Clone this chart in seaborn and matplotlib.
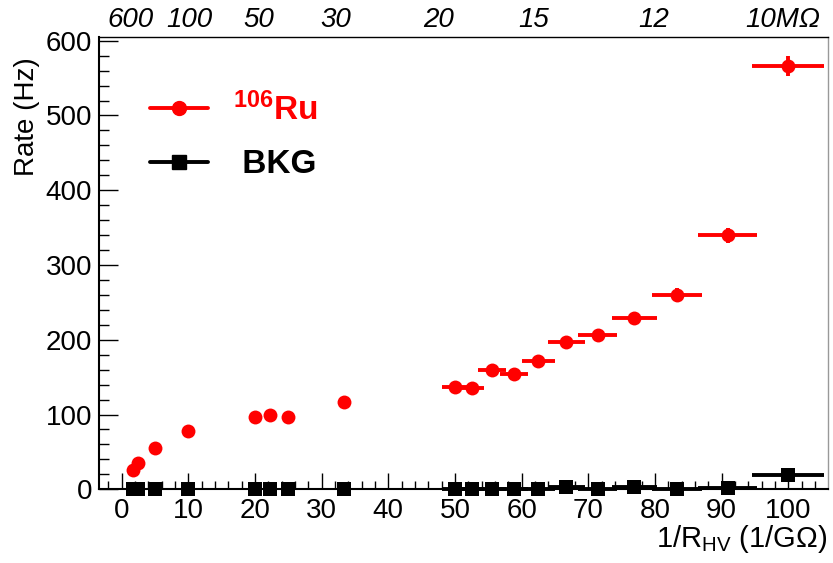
import matplotlib
matplotlib.use("Agg")
import matplotlib.pyplot as plt
import matplotlib.transforms as mtransforms
from matplotlib.lines import Line2D
from matplotlib.ticker import MultipleLocator
import pandas as pd
import seaborn as sns

# 1/R_HV (1/GOhm) and its horizontal uncertainty
inv_r = [1.67, 2.5, 5.0, 10.0, 20.0, 22.2, 25.0, 33.3, 50.0, 52.6, 55.6, 58.8,
         62.5, 66.7, 71.4, 76.9, 83.3, 90.9, 100.0]
inv_r_err = [0.05, 0.05, 0.1, 0.2, 0.4, 0.5, 0.6, 0.8, 2.0, 1.7, 2.1, 2.1,
             2.5, 2.75, 2.9, 3.4, 3.8, 4.4, 5.4]

# Ru-106 source rate (Hz)
ru_rate = [26, 35, 55, 78, 97, 100, 97, 117, 137, 136, 159, 154,
           171, 197, 206, 229, 260, 340, 566]
ru_err = [8, 8, 8, 8, 8, 8, 8, 8, 8, 8, 8, 8,
          8, 8, 8, 8, 9, 10, 13]

# background rate (Hz)
bkg_rate = [0, 0, 0, 0, 0, 0, 0, 0, 0, 0, 0, 0,
            0.5, 2.7, 0, 2.5, 0.5, 1.5, 19]
bkg_err = [0.5, 0.5, 0.5, 0.5, 0.5, 0.5, 0.5, 0.5, 0.5, 0.5, 0.5, 0.5,
           0.5, 1, 0.5, 1, 0.5, 1, 3]

# resistance labels along the top (MOhm)
top_labels = ["600", "100", "50", "30", "20", "15", "12", "10M\u03a9"]
top_label_pos = [1.25, 10.1, 20.6, 32.1, 47.5, 61.8, 79.8, 99.1]

sns.set_theme(style="ticks")
plt.rcParams["font.family"] = ["Liberation Sans", "DejaVu Sans"]
plt.rcParams["mathtext.fontset"] = "custom"
plt.rcParams["mathtext.rm"] = "Liberation Sans"
plt.rcParams["mathtext.it"] = "Liberation Sans:italic"
plt.rcParams["mathtext.bf"] = "Liberation Sans:bold"
plt.rcParams["axes.labelcolor"] = "black"
plt.rcParams["text.color"] = "black"

df_ru = pd.DataFrame({"x": inv_r, "y": ru_rate})
df_bkg = pd.DataFrame({"x": inv_r, "y": bkg_rate})

fig = plt.figure(figsize=(8.33, 5.63), dpi=100)
ax = fig.add_axes([0.1192, 0.1309, 0.8744, 0.8028])

ax.errorbar(inv_r, ru_rate, xerr=inv_r_err, yerr=ru_err, fmt="none",
            ecolor="#ff0000", elinewidth=2.8, capsize=0, clip_on=False, zorder=3)
sns.scatterplot(data=df_ru, x="x", y="y", ax=ax, marker="o", s=100,
                color="#ff0000", edgecolor="#ff0000", linewidth=0,
                clip_on=False, zorder=4, legend=False)

ax.errorbar(inv_r, bkg_rate, xerr=inv_r_err, yerr=bkg_err, fmt="none",
            ecolor="black", elinewidth=2.8, capsize=0, clip_on=False, zorder=5)
sns.scatterplot(data=df_bkg, x="x", y="y", ax=ax, marker="s", s=95,
                color="black", edgecolor="black", linewidth=0,
                clip_on=False, zorder=6, legend=False)

ax.set_xlim(-3.36, 105.9)
ax.set_ylim(0, 604.5)

ax.xaxis.set_major_locator(MultipleLocator(10))
ax.xaxis.set_minor_locator(MultipleLocator(2))
ax.yaxis.set_major_locator(MultipleLocator(100))
ax.yaxis.set_minor_locator(MultipleLocator(20))

ax.tick_params(axis="both", which="both", direction="in", top=False, right=False,
               colors="black", labelsize=20, width=1.0)
ax.tick_params(axis="y", which="major", length=13.7, pad=5)
ax.tick_params(axis="y", which="minor", length=7.2)
ax.tick_params(axis="x", which="major", length=11.5, pad=6)
ax.tick_params(axis="x", which="minor", length=5.8)

for side in ("left", "bottom"):
    ax.spines[side].set_color("black")
    ax.spines[side].set_linewidth(1.5)
ax.spines["top"].set_color("black")
ax.spines["top"].set_linewidth(1.0)
ax.spines["right"].set_color("#999999")
ax.spines["right"].set_linewidth(1.0)

ax.set_xlabel("1/R$_{\\mathrm{HV}}$ (1/G\u03a9)", fontsize=21, loc="right")
ax.xaxis.set_label_coords(1.0, -0.074)
ax.set_ylabel("Rate (Hz)", fontsize=20, loc="top")
ax.yaxis.set_label_coords(-0.0815, 0.955)

top_tr = mtransforms.blended_transform_factory(ax.transData, ax.transAxes)
for lab, pos in zip(top_labels, top_label_pos):
    ax.text(pos, 1.0235, lab, transform=top_tr, ha="center", va="baseline",
            fontsize=20, fontstyle="italic", color="black")

handles = [
    Line2D([], [], color="#ff0000", marker="o", markersize=10, lw=2.8),
    Line2D([], [], color="black", marker="s", markersize=9.7, lw=2.8),
]
labels = ["$^{\\mathbf{106}}$Ru", " BKG"]
leg = ax.legend(handles, labels, loc="upper left",
                bbox_to_anchor=(150 / 833, 1 - 92.5 / 563),
                bbox_transform=fig.transFigure, frameon=False, borderpad=0,
                borderaxespad=0, handlelength=1.74, handletextpad=0.75,
                labelspacing=0.67, prop={"weight": "bold", "size": 24})
for txt, col in zip(leg.get_texts(), ["#ff0000", "black"]):
    txt.set_color(col)

fig.savefig("out.png", dpi=100)
